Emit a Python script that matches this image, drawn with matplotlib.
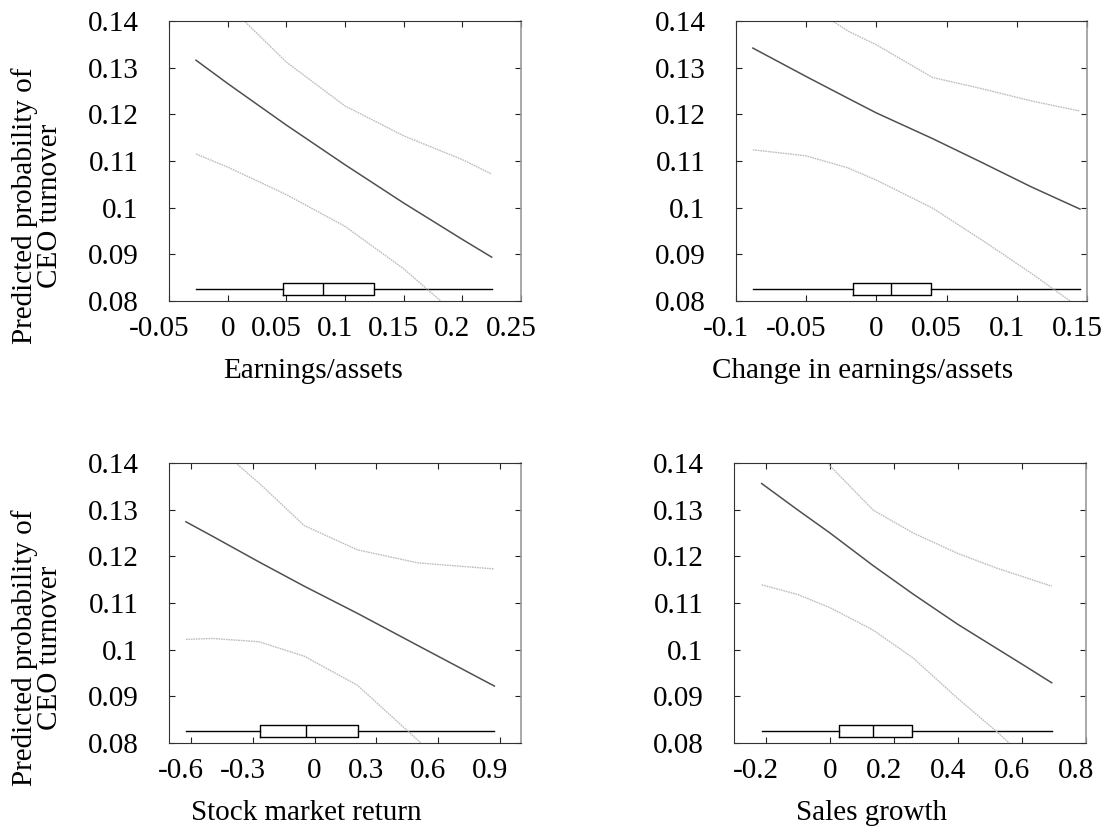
import matplotlib
matplotlib.use('Agg')
import matplotlib.pyplot as plt
from matplotlib.transforms import ScaledTranslation

plt.rcParams['font.family'] = ['Liberation Serif', 'DejaVu Serif']
plt.rcParams['axes.unicode_minus'] = False

# ---------------- data ----------------
ytick_vals = [0.08, 0.09, 0.10, 0.11, 0.12, 0.13, 0.14]
ytick_labels = ['0.08', '0.09', '0.1', '0.11', '0.12', '0.13', '0.14']
ylabel_text = 'Predicted probability of\nCEO turnover'

# Panel 1: Earnings/assets
x1 = [-0.027, 0.0, 0.05, 0.1, 0.15, 0.2, 0.225]
main1 = [0.1316, 0.1266, 0.1177, 0.1092, 0.1010, 0.0932, 0.0894]
up1 = [0.1505, 0.1435, 0.1312, 0.1218, 0.1154, 0.1103, 0.1072]
lo1 = [0.1115, 0.1087, 0.1028, 0.0960, 0.0869, 0.0760, 0.0715]
box1 = [-0.027, 0.047, 0.081, 0.125, 0.225]   # whislo, q1, med, q3, whishi
xt1 = [-0.05, 0.0, 0.05, 0.1, 0.15, 0.2, 0.25]
xtl1 = ['-0.05', '0', '0.05', '0.1', '0.15', '0.2', '0.25']

# Panel 2: Change in earnings/assets
x2 = [-0.088, -0.05, -0.02, 0.0, 0.04, 0.075, 0.11, 0.145]
main2 = [0.1342, 0.1281, 0.1234, 0.1203, 0.1148, 0.1097, 0.1045, 0.0997]
up2 = [0.150, 0.1437, 0.1378, 0.1349, 0.1279, 0.1255, 0.1229, 0.1207]
lo2 = [0.1124, 0.1111, 0.1085, 0.1059, 0.0999, 0.0931, 0.0860, 0.0785]
box2 = [-0.088, -0.017, 0.0107, 0.039, 0.145]
xt2 = [-0.1, -0.05, 0.0, 0.05, 0.1, 0.15]
xtl2 = ['-0.1', '-0.05', '0', '0.05', '0.1', '0.15']

# Panel 3: Stock market return
x3 = [-0.623, -0.494, -0.269, -0.05, 0.207, 0.5, 0.871]
main3 = [0.1274, 0.1243, 0.1188, 0.1136, 0.1078, 0.1009, 0.0922]
up3 = [0.149, 0.1443, 0.1357, 0.1266, 0.1214, 0.1186, 0.1173]
lo3 = [0.1022, 0.1024, 0.1017, 0.0986, 0.0924, 0.0806, 0.066]
box3 = [-0.623, -0.262, -0.04, 0.21, 0.871]
xt3 = [-0.6, -0.3, 0.0, 0.3, 0.6, 0.9]
xtl3 = ['-0.6', '-0.3', '0', '0.3', '0.6', '0.9']

# Panel 4: Sales growth
x4 = [-0.2135, -0.1, 0.0, 0.135, 0.26, 0.4, 0.52, 0.6, 0.693]
main4 = [0.1356, 0.1299, 0.1250, 0.1180, 0.1119, 0.1054, 0.1003, 0.0969, 0.0929]
up4 = [0.157, 0.1478, 0.1394, 0.1299, 0.1250, 0.1206, 0.1175, 0.1157, 0.1136]
lo4 = [0.1139, 0.1118, 0.1090, 0.1042, 0.0982, 0.0895, 0.0825, 0.0775, 0.071]
box4 = [-0.2135, 0.029, 0.135, 0.257, 0.693]
xt4 = [-0.2, 0.0, 0.2, 0.4, 0.6, 0.8]
xtl4 = ['-0.2', '0', '0.2', '0.4', '0.6', '0.8']

box_ypos = 0.0825

# ---------------- figure ----------------
W, H = 1108, 834
fig = plt.figure(figsize=(W / 100, H / 100), dpi=100)


def add_axes(l, t, r, b):
    return fig.add_axes([l / W, 1 - b / H, (r - l) / W, (b - t) / H])


panels = [
    dict(rect=(169, 21, 521, 301), x=x1, m=main1, u=up1, lo=lo1, box=box1,
         xlim=(-0.05, 0.25), xt=xt1, xtl=xtl1, xlabel='Earnings/assets', xlx=0.41, ylab=True),
    dict(rect=(736, 21, 1087, 301), x=x2, m=main2, u=up2, lo=lo2, box=box2,
         xlim=(-0.1, 0.15), xt=xt2, xtl=xtl2, xlabel='Change in earnings/assets', xlx=0.36, ylab=False),
    dict(rect=(169, 463, 521, 743), x=x3, m=main3, u=up3, lo=lo3, box=box3,
         xlim=(-0.705, 1.0), xt=xt3, xtl=xtl3, xlabel='Stock market return', xlx=0.39, ylab=True),
    dict(rect=(734, 463, 1086, 743), x=x4, m=main4, u=up4, lo=lo4, box=box4,
         xlim=(-0.3, 0.8), xt=xt4, xtl=xtl4, xlabel='Sales growth', xlx=0.39, ylab=False),
]

FS = 21
shift = ScaledTranslation(-10 / 100, 0, fig.dpi_scale_trans)
for p in panels:
    ax = add_axes(*p['rect'])
    lo_, q1, med, q3, hi = p['box']
    stats = [dict(whislo=lo_, q1=q1, med=med, q3=q3, whishi=hi, fliers=[])]
    kw = dict(positions=[box_ypos], widths=0.0026, showcaps=False, showfliers=False,
              boxprops=dict(color='black', linewidth=1.0),
              whiskerprops=dict(color='black', linewidth=1.0),
              medianprops=dict(color='black', linewidth=1.0),
              manage_ticks=False)
    try:
        ax.bxp(stats, orientation='horizontal', **kw)
    except TypeError:
        ax.bxp(stats, vert=False, **kw)

    ax.plot(p['x'], p['u'], color='#bdbdbd', linewidth=1.0, linestyle=(0, (1.2, 0.6)))
    ax.plot(p['x'], p['lo'], color='#bdbdbd', linewidth=1.0, linestyle=(0, (1.2, 0.6)))
    ax.plot(p['x'], p['m'], color='#505050', linewidth=1.1)

    ax.set_xlim(*p['xlim'])
    ax.set_ylim(0.08, 0.14)
    ax.set_xticks(p['xt'])
    ax.set_xticklabels(p['xtl'])
    ax.set_yticks(ytick_vals)
    ax.set_yticklabels(ytick_labels)
    ax.tick_params(axis='both', direction='in', length=4.3, width=0.8, colors='#222222',
                   labelcolor='black', labelsize=FS, top=True, right=True)
    ax.tick_params(axis='y', pad=22)
    ax.tick_params(axis='x', pad=11)
    for lab in ax.get_xticklabels():
        if lab.get_text() != '0':
            lab.set_transform(lab.get_transform() + shift)
    for s in ['left', 'top', 'bottom']:
        ax.spines[s].set_color('#333333')
        ax.spines[s].set_linewidth(0.8)
    ax.spines['right'].set_color('#9a9a9a')
    ax.spines['right'].set_linewidth(1.2)

    ax.set_xlabel(p['xlabel'], fontsize=FS)
    ax.xaxis.set_label_coords(p['xlx'], -0.203)
    if p['ylab']:
        ax.set_ylabel(ylabel_text, fontsize=FS, va='center', linespacing=0.95)
        ax.yaxis.set_label_coords(-0.375, 0.34)

fig.savefig('out.png', dpi=100)
